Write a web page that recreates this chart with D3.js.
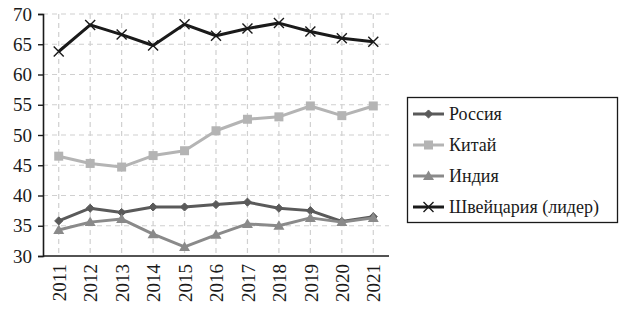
<!DOCTYPE html>
<html><head><meta charset="utf-8">
<script src="https://cdn.jsdelivr.net/npm/d3@7"></script>
</head><body style="margin:0">
<svg id="c" width="621" height="323"></svg>
<script>
const years = ["2011","2012","2013","2014","2015","2016","2017","2018","2019","2020","2021"];
const seriesNames = ["Россия","Китай","Индия","Швейцария (лидер)"];
const russia = [35.8,37.9,37.2,38.1,38.1,38.5,38.9,37.9,37.5,35.7,36.5];
const china = [46.5,45.3,44.7,46.6,47.4,50.7,52.6,53.0,54.8,53.2,54.8];
const india = [34.3,35.6,36.1,33.6,31.5,33.5,35.3,35.0,36.3,35.6,36.3];
const swiss = [63.8,68.2,66.6,64.8,68.3,66.4,67.6,68.5,67.1,66.0,65.4];
const yTicks = [30,35,40,45,50,55,60,65,70];

const FONT = "Liberation Serif";
const colors = ["#5a5a5a","#b4b4b4","#8a8a8a","#1a1a1a"];
const markers = ["diamond","square","triangle","cross"];
const data = [russia, china, india, swiss];

const svg = d3.select("#c");
svg.append("rect").attr("width",621).attr("height",323).attr("fill","#fff");
const L=43, R=389, T=14, B=256;
const x = d3.scalePoint().domain(years).range([L,R]).padding(0.5);
const y = d3.scaleLinear().domain([30,70]).range([B,T]);

// grid
const g = svg.append("g");
g.selectAll(".hg").data(yTicks.filter(d=>d>30)).enter().append("line")
 .attr("x1",L).attr("x2",R).attr("y1",d=>y(d)).attr("y2",d=>y(d))
 .attr("stroke","#d0d0d0").attr("stroke-width",1.2).attr("stroke-dasharray","5,4");
g.selectAll(".vg").data(years).enter().append("line")
 .attr("x1",d=>x(d)).attr("x2",d=>x(d)).attr("y1",T).attr("y2",B)
 .attr("stroke","#d0d0d0").attr("stroke-width",1.2).attr("stroke-dasharray","5,4");

// axes
const yAxis = svg.append("g").attr("transform",`translate(${L},0)`)
 .call(d3.axisLeft(y).tickValues(yTicks).tickSize(5).tickPadding(6));
yAxis.selectAll("text").attr("fill","#1a1a1a").attr("font-family",FONT).attr("font-size",19);
const xAxis = svg.append("g").attr("transform",`translate(0,${B})`)
 .call(d3.axisBottom(x).tickSize(0).tickPadding(0));
xAxis.selectAll("text").attr("fill","#1a1a1a").attr("font-family",FONT).attr("font-size",19)
 .attr("transform","rotate(-90)").attr("text-anchor","end").attr("dx","-8").attr("dy","0.35em").attr("y",0);
svg.selectAll(".domain").attr("stroke","#1a1a1a").attr("stroke-width",1.6);
svg.selectAll(".tick line").attr("stroke","#1a1a1a").attr("stroke-width",1.4);
xAxis.select(".domain").attr("d",`M${L},0H${R}`);

function drawMarker(sel, type, color){
  if(type==="diamond") sel.append("path").attr("d",d3.symbol(d3.symbolDiamond2,42)()).attr("fill",color).attr("stroke",color).attr("stroke-width",1);
  else if(type==="square") sel.append("rect").attr("x",-4.5).attr("y",-4.5).attr("width",9).attr("height",9).attr("fill",color);
  else if(type==="triangle") sel.append("path").attr("d","M0,-5.5L5.5,4L-5.5,4Z").attr("fill",color);
  else sel.append("path").attr("d","M-5,-5L5,5M-5,5L5,-5").attr("stroke",color).attr("stroke-width",1.4);
}

const line = d3.line().x((d,i)=>x(years[i])).y(d=>y(d));
data.forEach((vals,si)=>{
  const sg = svg.append("g");
  sg.append("path").datum(vals).attr("d",line).attr("fill","none")
   .attr("stroke",colors[si]).attr("stroke-width",3).attr("stroke-linejoin","round");
  vals.forEach((v,i)=>{
    const m = sg.append("g").attr("transform",`translate(${x(years[i])},${y(v)})`);
    drawMarker(m, markers[si], colors[si]);
  });
});

// legend
const lg = svg.append("g");
lg.append("rect").attr("x",407.5).attr("y",97.5).attr("width",210).attr("height",125)
 .attr("fill","#fff").attr("stroke","#1a1a1a").attr("stroke-width",1.3);
const ly = d3.scalePoint().domain(seriesNames).range([114,207]);
seriesNames.forEach((n,si)=>{
  const yy = ly(n);
  lg.append("line").attr("x1",413).attr("x2",444).attr("y1",yy).attr("y2",yy)
   .attr("stroke",colors[si]).attr("stroke-width",3);
  const m = lg.append("g").attr("transform",`translate(428.5,${yy})`);
  drawMarker(m, markers[si], colors[si]);
  lg.append("text").attr("x",449).attr("y",yy).attr("dy","0.33em").attr("fill","#1a1a1a")
   .attr("font-family",FONT).attr("font-size",18).text(n);
});
</script></body></html>
